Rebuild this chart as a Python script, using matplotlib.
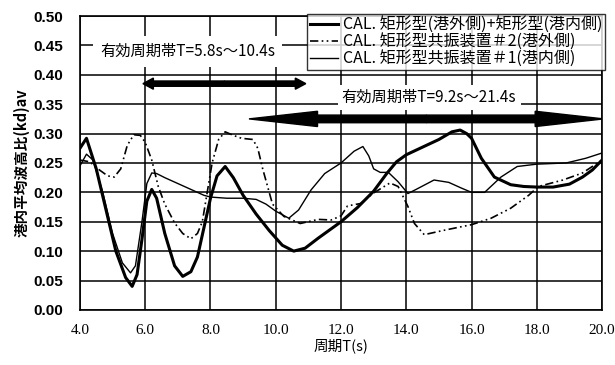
import matplotlib
matplotlib.use("Agg")
import matplotlib.pyplot as plt
from matplotlib.patches import FancyArrow

plt.rcParams['font.family'] = ['Noto Sans CJK JP', 'DejaVu Sans']

# 矩形型(港外側)+矩形型(港内側)
t_a = [4.0, 4.2, 4.5, 4.8, 5.1, 5.4, 5.6, 5.75, 5.9, 6.05, 6.2, 6.35, 6.6, 6.9, 7.15, 7.4,
       7.6, 7.8, 8.0, 8.2, 8.45, 8.7, 9.0, 9.4, 9.8, 10.2, 10.55, 10.9, 11.3, 11.7, 12.0,
       12.5, 13.0, 13.4, 13.7, 14.0, 14.5, 15.0, 15.4, 15.65, 15.85, 16.0, 16.3, 16.7,
       17.2, 17.6, 18.0, 18.5, 19.0, 19.4, 19.7, 20.0]
kd_a = [0.275, 0.292, 0.24, 0.17, 0.10, 0.055, 0.04, 0.06, 0.12, 0.185, 0.205, 0.19, 0.13,
        0.075, 0.057, 0.065, 0.09, 0.14, 0.19, 0.228, 0.244, 0.225, 0.195, 0.163, 0.135,
        0.11, 0.100, 0.105, 0.122, 0.138, 0.150, 0.174, 0.202, 0.232, 0.252, 0.264, 0.277,
        0.290, 0.303, 0.306, 0.300, 0.292, 0.258, 0.226, 0.213, 0.210, 0.209, 0.209, 0.214,
        0.226, 0.238, 0.255]

# 共振装置#2(港外側)
t_c = [4.0, 4.3, 4.6, 4.85, 5.05, 5.25, 5.45, 5.65, 5.85, 6.0, 6.2, 6.4, 6.6, 6.9, 7.15,
       7.4, 7.6, 7.75, 7.9, 8.05, 8.25, 8.45, 8.7, 8.95, 9.3, 9.45, 9.6, 9.75, 9.9, 10.25,
       10.75, 11.3, 11.7, 12.0, 12.2, 12.6, 13.0, 13.5, 13.75, 14.05, 14.25, 14.55, 15.2,
       16.0, 16.6, 17.2, 17.75, 18.05, 18.8, 19.4, 20.0]
kd_c = [0.255, 0.252, 0.238, 0.228, 0.226, 0.24, 0.28, 0.298, 0.297, 0.285, 0.255, 0.21,
        0.18, 0.148, 0.13, 0.121, 0.13, 0.15, 0.20, 0.25, 0.29, 0.303, 0.297, 0.292, 0.29,
        0.275, 0.24, 0.21, 0.18, 0.159, 0.147, 0.154, 0.153, 0.160, 0.177, 0.181, 0.199,
        0.216, 0.21, 0.176, 0.147, 0.128, 0.136, 0.145, 0.156, 0.173, 0.195, 0.21, 0.221,
        0.233, 0.255]

# 共振装置#1(港内側)
t_b = [4.0, 4.2, 4.4, 4.7, 5.0, 5.3, 5.55, 5.7, 5.9, 6.05, 6.2, 6.35, 6.6, 7.0, 7.4, 7.8,
       8.0, 8.5, 9.0, 9.4, 9.7, 10.0, 10.4, 10.7, 11.08, 11.5, 12.0, 12.4, 12.67, 12.85,
       13.0, 13.2, 13.45, 13.75, 14.05, 14.3, 14.85, 15.3, 15.7, 16.0, 16.4, 16.9, 17.4,
       18.0, 18.9, 19.5, 20.0]
kd_b = [0.245, 0.265, 0.255, 0.20, 0.13, 0.08, 0.063, 0.075, 0.15, 0.215, 0.233, 0.232,
        0.225, 0.215, 0.205, 0.195, 0.192, 0.19, 0.19, 0.188, 0.18, 0.168, 0.156, 0.17,
        0.204, 0.232, 0.250, 0.27, 0.278, 0.262, 0.240, 0.234, 0.234, 0.218, 0.198, 0.205,
        0.221, 0.217, 0.207, 0.200, 0.200, 0.226, 0.244, 0.248, 0.250, 0.258, 0.267]

labels = ["CAL. 矩形型(港外側)+矩形型(港内側)",
          "CAL. 矩形型共振装置＃2(港外側)",
          "CAL. 矩形型共振装置＃1(港内側)"]
band1 = (5.93, 10.92, 0.385, "有効周期帯T=5.8s～10.4s")
band2 = (9.18, 20.05, 0.325, "有効周期帯T=9.2s～21.4s")

fig = plt.figure(figsize=(6.15, 3.65), dpi=100)
ax = fig.add_axes([0.130, 0.151, 0.849, 0.805])

l1, = ax.plot(t_a, kd_a, color='black', lw=2.2, zorder=4)
l2, = ax.plot(t_c, kd_c, color='black', lw=1.2, dashes=(5, 2, 1, 2, 1, 2), zorder=4)
l3, = ax.plot(t_b, kd_b, color='black', lw=1.0, zorder=4)

ax.set_xlim(4.0, 20.0)
ax.set_ylim(0.0, 0.50)
ax.set_xticks([4 + 2 * i for i in range(9)])
ax.set_yticks([0.05 * i for i in range(11)])
ax.set_xticklabels([f"{4 + 2 * i:.1f}" for i in range(9)], family='Liberation Serif', fontsize=11)
ax.set_yticklabels([f"{0.05 * i:.2f}" for i in range(11)], family='Liberation Sans',
                   fontsize=11, fontweight='bold')
ax.tick_params(axis='x', length=0, pad=10)
ax.tick_params(axis='y', length=0, pad=12)
ax.grid(True, color='black', lw=1.1)
ax.set_axisbelow(True)
for s in ax.spines.values():
    s.set_linewidth(1.2)

ax.set_xlabel("周期T(s)", fontsize=10.5, labelpad=1)
ax.set_ylabel("港内平均波高比(kd)av", fontsize=10.5, fontweight='bold', labelpad=3)


def double_arrow(x0, x1, y, width, head_w, head_l):
    mid = (x0 + x1) / 2
    for start, end in [(mid, x1), (mid, x0)]:
        ax.add_patch(FancyArrow(start, y, end - start, 0, width=width, head_width=head_w,
                                head_length=head_l, length_includes_head=True,
                                color='black', zorder=3))


double_arrow(band1[0], band1[1], band1[2], 0.009, 0.019, 0.32)
double_arrow(band2[0], band2[1], band2[2], 0.013, 0.026, 2.1)

ax.text(7.3, 0.44, band1[3], fontsize=11, ha='center', va='center', zorder=5,
        bbox=dict(facecolor='white', edgecolor='none', pad=5))
ax.text(14.7, 0.362, band2[3], fontsize=11, ha='center', va='center', zorder=5,
        bbox=dict(facecolor='white', edgecolor='none', pad=3))

leg = ax.legend([l1, l2, l3], labels, loc='upper right', bbox_to_anchor=(0.984, 0.962),
                bbox_transform=fig.transFigure, fontsize=11.5, frameon=True, fancybox=False,
                handlelength=1.8, handletextpad=0.3, borderpad=0.15, labelspacing=0.0,
                borderaxespad=0)
leg.get_frame().set_edgecolor('black')
leg.get_frame().set_linewidth(1.0)
leg.set_zorder(6)

plt.savefig("out.png", dpi=100)
